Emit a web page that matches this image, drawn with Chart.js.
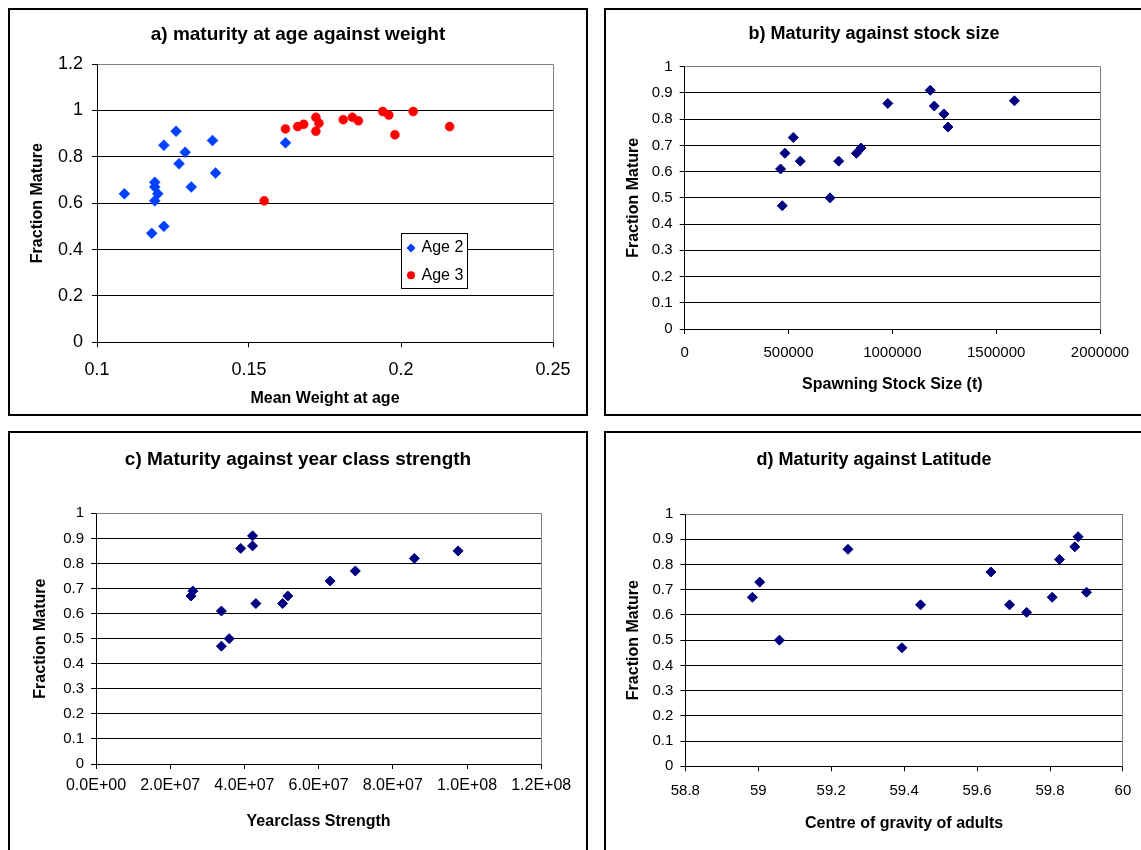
<!DOCTYPE html>
<html>
<head>
<meta charset="utf-8">
<script src="https://cdn.jsdelivr.net/npm/chart.js"></script>
<style>
  html, body { margin: 0; padding: 0; background: #fff; overflow: hidden; width: 1141px; height: 850px; }
  .panel { position: absolute; border: 2px solid #000; box-sizing: border-box; background: #fff; }
  .panel canvas { display: block; }
</style>
</head>
<body>
<div class="panel" style="left:8px;top:8px;width:580px;height:408px"><canvas id="chartA" width="576" height="404"></canvas></div>
<div class="panel" style="left:604px;top:8px;width:540px;height:408px"><canvas id="chartB" width="536" height="404"></canvas></div>
<div class="panel" style="left:8px;top:431px;width:580px;height:424px"><canvas id="chartC" width="576" height="420"></canvas></div>
<div class="panel" style="left:604px;top:431px;width:540px;height:424px"><canvas id="chartD" width="536" height="420"></canvas></div>
<script>
// a) maturity at age against weight
const age2Weight = [0.109, 0.126, 0.122, 0.129, 0.127, 0.138, 0.139, 0.119, 0.119, 0.120, 0.119, 0.131, 0.122, 0.118, 0.162];
const age2Mature = [0.64, 0.91, 0.85, 0.82, 0.77, 0.87, 0.73, 0.69, 0.67, 0.64, 0.61, 0.67, 0.50, 0.47, 0.86];
const age3Weight = [0.155, 0.162, 0.166, 0.168, 0.172, 0.173, 0.172, 0.181, 0.184, 0.186, 0.194, 0.196, 0.204, 0.198, 0.216];
const age3Mature = [0.61, 0.92, 0.93, 0.94, 0.97, 0.945, 0.91, 0.96, 0.97, 0.955, 0.995, 0.98, 0.995, 0.895, 0.93];

// b) maturity against stock size
const stockSize = [461700, 469800, 482600, 522900, 556600, 699800, 741700, 826900, 849400, 978200, 1182500, 1201800, 1248400, 1267700, 1587900];
const stockMature = [0.61, 0.47, 0.67, 0.73, 0.64, 0.50, 0.64, 0.67, 0.69, 0.86, 0.91, 0.85, 0.82, 0.77, 0.87];

// c) maturity against year class strength
const yearclass = [2.56e7, 2.61e7, 3.38e7, 3.38e7, 3.59e7, 3.90e7, 4.22e7, 4.22e7, 4.31e7, 5.03e7, 5.17e7, 6.31e7, 6.99e7, 8.58e7, 9.76e7];
const yearclassMature = [0.67, 0.69, 0.61, 0.47, 0.50, 0.86, 0.91, 0.87, 0.64, 0.64, 0.67, 0.73, 0.77, 0.82, 0.85];

// d) maturity against latitude
const latitude = [58.984, 59.004, 59.058, 59.246, 59.394, 59.445, 59.638, 59.689, 59.736, 59.806, 59.826, 59.868, 59.877, 59.900];
const latitudeMature = [0.67, 0.73, 0.50, 0.86, 0.47, 0.64, 0.77, 0.64, 0.61, 0.67, 0.82, 0.87, 0.91, 0.69];

// tick values and labels
const aXTicks = [0.1, 0.15, 0.2, 0.25];
const aXLabels = ['0.1', '0.15', '0.2', '0.25'];
const aYTicks = [0, 0.2, 0.4, 0.6, 0.8, 1, 1.2];
const aYLabels = ['0', '0.2', '0.4', '0.6', '0.8', '1', '1.2'];
const bXTicks = [0, 500000, 1000000, 1500000, 2000000];
const bXLabels = ['0', '500000', '1000000', '1500000', '2000000'];
const cXTicks = [0, 2e7, 4e7, 6e7, 8e7, 1e8, 1.2e8];
const cXLabels = ['0.0E+00', '2.0E+07', '4.0E+07', '6.0E+07', '8.0E+07', '1.0E+08', '1.2E+08'];
const dXTicks = [58.8, 59, 59.2, 59.4, 59.6, 59.8, 60];
const dXLabels = ['58.8', '59', '59.2', '59.4', '59.6', '59.8', '60'];
const fracTicks = [0, 0.1, 0.2, 0.3, 0.4, 0.5, 0.6, 0.7, 0.8, 0.9, 1];
const fracLabels = ['0', '0.1', '0.2', '0.3', '0.4', '0.5', '0.6', '0.7', '0.8', '0.9', '1'];

const FONT = '"Liberation Sans", Arial, sans-serif';
Chart.defaults.font.family = FONT;
Chart.defaults.color = '#000';

const toPoints = (xs, ys) => xs.map((x, i) => ({ x: x, y: ys[i] }));

// gray frame on top/right of plot area (Excel style)
const plotFrame = {
  id: 'plotFrame',
  beforeDatasetsDraw(chart) {
    const { ctx, chartArea: a } = chart;
    const al = v => Math.round(v - 0.5) + 0.5;
    ctx.save();
    ctx.strokeStyle = '#808080';
    ctx.lineWidth = 1;
    ctx.beginPath();
    ctx.moveTo(al(a.left), al(a.top));
    ctx.lineTo(al(a.right), al(a.top));
    ctx.lineTo(al(a.right), al(a.bottom));
    ctx.stroke();
    ctx.restore();
  }
};

// legend box drawn inside the plot area
const insideLegend = {
  id: 'insideLegend',
  afterDatasetsDraw(chart, args, opts) {
    const { ctx, chartArea: a } = chart;
    const x = Math.round(a.left + opts.x) + 0.5;
    const y = Math.round(a.top + opts.y) + 0.5;
    ctx.save();
    ctx.fillStyle = '#fff';
    ctx.fillRect(x, y, opts.w, opts.h);
    ctx.strokeStyle = '#000';
    ctx.lineWidth = 1;
    ctx.strokeRect(x, y, opts.w, opts.h);
    ctx.font = '16px ' + FONT;
    ctx.textBaseline = 'middle';
    ctx.textAlign = 'left';
    chart.data.datasets.forEach((ds, i) => {
      const cy = y + opts.rowY[i];
      const cx = x + opts.markerX;
      ctx.fillStyle = ds.pointBackgroundColor;
      ctx.beginPath();
      if (ds.pointStyle === 'rectRot') {
        const r = 4.5;
        ctx.moveTo(cx, cy - r);
        ctx.lineTo(cx + r, cy);
        ctx.lineTo(cx, cy + r);
        ctx.lineTo(cx - r, cy);
        ctx.closePath();
      } else {
        ctx.arc(cx, cy, 4, 0, Math.PI * 2);
      }
      ctx.fill();
      ctx.fillStyle = '#000';
      ctx.fillText(ds.label, x + opts.textX, cy);
    });
    ctx.restore();
  }
};

function scatterPanel(id, p) {
  return new Chart(document.getElementById(id), {
    type: 'scatter',
    data: { datasets: p.datasets },
    options: {
      responsive: false,
      animation: false,
      events: [],
      layout: { padding: 0 },
      plugins: {
        legend: { display: false },
        tooltip: { enabled: false },
        title: {
          display: true, text: p.title, color: '#000',
          font: { size: p.titleSize, weight: 'bold' },
          padding: p.titlePad
        },
        insideLegend: p.legend || {}
      },
      scales: {
        x: {
          type: 'linear',
          min: p.xTicks[0], max: p.xTicks[p.xTicks.length - 1],
          afterBuildTicks: s => { s.ticks = p.xTicks.map(v => ({ value: v })); },
          afterFit: s => { s.height = p.xHeight; },
          grid: { drawOnChartArea: false, drawTicks: true, tickLength: 5, tickColor: '#000', tickWidth: 1 },
          border: { color: '#000', width: 1 },
          ticks: {
            callback: (v, i) => p.xLabels[i],
            padding: p.xTickPad, font: { size: p.xTickSize }, color: '#000',
            maxRotation: 0, autoSkip: false
          },
          title: {
            display: true, text: p.xTitle, color: '#000',
            font: { size: 16, weight: 'bold' },
            padding: { top: 0, bottom: p.xTitlePad }
          }
        },
        y: {
          type: 'linear',
          min: p.yTicks[0], max: p.yTicks[p.yTicks.length - 1],
          afterBuildTicks: s => { s.ticks = p.yTicks.map(v => ({ value: v })); },
          afterFit: s => { s.width = p.yWidth; },
          grid: { color: '#000', lineWidth: 1, drawTicks: true, tickLength: 5, tickColor: '#000' },
          border: { color: '#000', width: 1 },
          ticks: {
            callback: (v, i) => p.yLabels[i],
            padding: p.yTickPad, font: { size: p.yTickSize }, color: '#000', autoSkip: false
          },
          title: {
            display: true, text: 'Fraction Mature', color: '#000',
            font: { size: 16, weight: 'bold' },
            padding: { top: p.yTitlePad, bottom: 0 }
          }
        },
        // empty right-hand axis: only reserves the space right of the plot,
        // so the title stays centred on the whole panel
        spacer: {
          type: 'linear', position: 'right',
          afterFit: s => { s.width = p.padRight; },
          grid: { display: false }, border: { display: false },
          ticks: { display: false }, title: { display: false }
        }
      }
    },
    plugins: p.legend ? [plotFrame, insideLegend] : [plotFrame]
  });
}

const navy = '#000080';
const navySet = (xs, ys) => [{
  label: 'Fraction Mature',
  data: toPoints(xs, ys),
  pointStyle: 'rectRot', pointRadius: 5,
  pointBackgroundColor: navy, pointBorderColor: navy, pointBorderWidth: 1
}];

scatterPanel('chartA', {
  title: 'a) maturity at age against weight', titleSize: 19, titlePad: { top: 13, bottom: 18.2 },
  xTitle: 'Mean Weight at age', xTicks: aXTicks, xLabels: aXLabels,
  yTicks: aYTicks, yLabels: aYLabels,
  xHeight: 71.7, yWidth: 87, padRight: 33,
  xTickPad: 12, xTickSize: 18, yTickPad: 9, yTickSize: 18,
  xTitlePad: 5.4, yTitlePad: 17.8,
  legend: { x: 303.7, y: 169.3, w: 66, h: 55, rowY: [14.4, 41.7], markerX: 9.5, textX: 20 },
  datasets: [
    {
      label: 'Age 2', data: toPoints(age2Weight, age2Mature),
      pointStyle: 'rectRot', pointRadius: 5.5,
      pointBackgroundColor: '#0040FF', pointBorderColor: '#0040FF', pointBorderWidth: 0.5
    },
    {
      label: 'Age 3', data: toPoints(age3Weight, age3Mature),
      pointStyle: 'circle', pointRadius: 4.5,
      pointBackgroundColor: '#FF0000', pointBorderColor: '#FF0000', pointBorderWidth: 0.5
    }
  ]
});

scatterPanel('chartB', {
  title: 'b) Maturity against stock size', titleSize: 18, titlePad: { top: 13.2, bottom: 21.9 },
  xTitle: 'Spawning Stock Size (t)', xTicks: bXTicks, xLabels: bXLabels,
  yTicks: fracTicks, yLabels: fracLabels,
  xHeight: 85, yWidth: 78.7, padRight: 42,
  xTickPad: 9.5, xTickSize: 15, yTickPad: 7, yTickSize: 15,
  xTitlePad: 19.4, yTitlePad: 18.4,
  datasets: navySet(stockSize, stockMature)
});

scatterPanel('chartC', {
  title: 'c) Maturity against year class strength', titleSize: 19, titlePad: { top: 15.4, bottom: 42.1 },
  xTitle: 'Yearclass Strength', xTicks: cXTicks, xLabels: cXLabels,
  yTicks: fracTicks, yLabels: fracLabels,
  xHeight: 89, yWidth: 86, padRight: 44.8,
  xTickPad: 7.4, xTickSize: 16, yTickPad: 7, yTickSize: 15,
  xTitlePad: 21.4, yTitlePad: 21.4,
  datasets: navySet(yearclass, yearclassMature)
});

scatterPanel('chartD', {
  title: 'd) Maturity against Latitude', titleSize: 18, titlePad: { top: 15.8, bottom: 43.6 },
  xTitle: 'Centre of gravity of adults', xTicks: dXTicks, xLabels: dXLabels,
  yTicks: fracTicks, yLabels: fracLabels,
  xHeight: 86.7, yWidth: 79.3, padRight: 18.4,
  xTickPad: 10.7, xTickSize: 15, yTickPad: 7, yTickSize: 15,
  xTitlePad: 19.4, yTitlePad: 18.4,
  datasets: navySet(latitude, latitudeMature)
});
</script>
</body>
</html>
